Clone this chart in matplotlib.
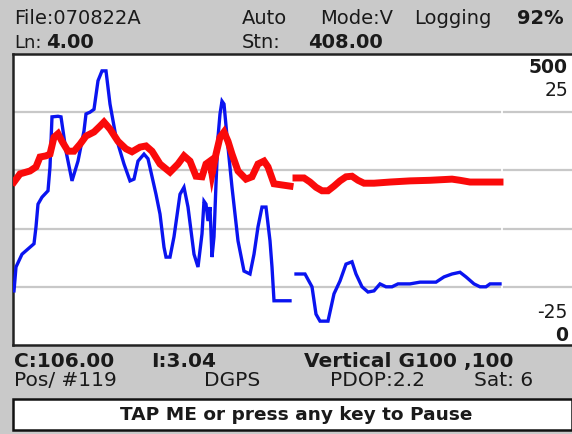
import matplotlib
matplotlib.use("Agg")
import matplotlib.pyplot as plt
import numpy as np
from matplotlib.patches import Rectangle

W, H = 572, 435

# ---- data: blue (left scale -25..25) ----
blue_x1 = [1, 3, 9, 17, 21, 23, 25, 29, 35, 37, 39, 45, 48, 53, 59, 65, 71, 73, 77, 81,
           85, 89, 93, 97, 103, 111, 117, 121, 125, 131, 135, 143, 147, 151, 153, 157,
           161, 167, 171, 175, 181, 185, 189, 191, 193, 195, 197, 199, 201, 203, 205,
           207, 209, 211, 215, 219, 225, 231, 237, 241, 245, 249, 253, 257, 259, 261, 277]
blue_y1 = [-15.7, -11.6, -9.4, -8.2, -7.6, -4.7, -0.8, 0.4, 1.5, 5.6, 14.2, 14.3, 14.2,
           8.3, 3.2, 6.6, 11.8, 14.7, 15.0, 15.5, 20.4, 22.1, 22.1, 16.4, 10.7, 6.1, 3.2,
           3.5, 6.6, 7.8, 7.0, 0.9, -2.5, -8.2, -9.9, -9.9, -6.4, 0.9, 2.1, -1.3, -9.4,
           -11.6, -5.9, -0.3, -0.8, -3.7, -1.3, -9.9, -6.4, 2.7, 10.7, 14.7, 16.9, 16.4,
           9.0, 2.1, -7.1, -12.3, -12.8, -9.4, -4.7, -1.3, -1.3, -7.1, -11.6, -17.4, -17.4]
blue_x2 = [283, 292, 299, 303, 307, 315, 321, 327, 333, 339, 343, 349, 355, 361, 367, 373,
           379, 385, 397, 407, 423, 431, 439, 447, 453, 461, 467, 473, 477, 487]
blue_y2 = [-12.8, -12.8, -15.0, -19.7, -20.9, -20.9, -16.2, -14.0, -11.1, -10.7, -12.8,
           -15.0, -15.9, -15.7, -14.5, -15.0, -15.0, -14.5, -14.5, -14.2, -14.2, -13.3,
           -12.8, -12.5, -13.3, -14.5, -15.0, -15.0, -14.5, -14.5]

# ---- data: red (right scale 0..500) ----
red_x1 = [1, 7, 17, 23, 27, 33, 37, 41, 45, 49, 55, 61, 67, 73, 81, 87, 91, 97, 105, 113,
          119, 127, 133, 139, 147, 157, 165, 171, 177, 183, 189, 193, 197, 199, 203, 207,
          211, 215, 219, 225, 233, 239, 245, 251, 255, 261, 277]
red_y1 = [280, 294, 299, 306, 323, 325, 328, 357, 363, 350, 333, 333, 345, 359, 366, 376,
          383, 371, 350, 337, 332, 340, 342, 333, 311, 297, 311, 325, 316, 290, 289, 311,
          316, 294, 328, 357, 366, 350, 328, 299, 285, 289, 311, 316, 306, 277, 273]
red_x2 = [283, 291, 297, 303, 309, 315, 321, 327, 333, 339, 345, 351, 361, 377, 397, 417,
          439, 447, 457, 487]
red_y2 = [287, 287, 280, 271, 265, 265, 273, 282, 289, 290, 283, 278, 278, 280, 282, 283,
          285, 283, 280, 280]

grid_blue = [-15, -5, 5, 15]

BG = "#c9c9c9"
TXT = "#1a1a1a"

fig = plt.figure(figsize=(W / 100, H / 100), dpi=100, facecolor=BG)
plt.rcParams['font.family'] = ['DejaVu Sans']

def fx(px):
    return px / W

def fy(py):
    return 1 - py / H

# plot area
L, T, R, B = 13, 55, 572, 346
ax = fig.add_axes([fx(L), fy(B), fx(R - L), (B - T) / H])
ax.set_facecolor("white")
ax.set_xlim(0, R - L)
ax.set_ylim(-25, 25)
ax.set_xticks([])
ax.set_yticks([])
for s in ["top", "left", "bottom"]:
    ax.spines[s].set_linewidth(1.8)
    ax.spines[s].set_color("#222222")
ax.spines["right"].set_visible(False)

for g in grid_blue:
    ax.plot([0, 487], [g, g], color="#c8c8c8", lw=1.6, zorder=1)
    ax.plot([491, R - L], [g, g], color="#c8c8c8", lw=1.6, zorder=1)

bx = blue_x1 + [np.nan] + blue_x2
by = blue_y1 + [np.nan] + blue_y2
ax.plot(bx, by, color="#0a14f0", lw=2.4, zorder=3, solid_joinstyle="miter")

ax2 = ax.twinx()
ax2.set_ylim(0, 500)
ax2.set_xlim(0, R - L)
ax2.set_yticks([])
ax2.set_xticks([])
for s in ax2.spines.values():
    s.set_visible(False)
rx = red_x1 + [np.nan] + red_x2
ry = red_y1 + [np.nan] + red_y2
ax2.plot(rx, ry, color="#fa0a0a", lw=5.0, zorder=4, solid_joinstyle="miter")

def t(x, y, s, size=14, bold=False, ha="left"):
    fig.text(fx(x), fy(y), s, ha=ha, va="center", fontsize=size,
             fontweight="bold" if bold else "normal", color=TXT)

# right-side scale labels
t(568, 68, "500", 13.5, True, "right")
t(568, 90, "25", 13.5, False, "right")
t(568, 313, "-25", 13.5, False, "right")
t(568, 336, "0", 13.5, True, "right")

# header
t(14, 18, "File:070822A", 14)
t(242, 18, "Auto", 14)
t(320, 18, "Mode:V", 14)
t(414, 18, "Logging", 14)
t(517, 18, "92%", 14, True)

t(14, 43, "Ln:", 13)
t(46, 43, "4.00", 14, True)
t(242, 43, "Stn:", 14)
t(308, 43, "408.00", 14, True)

# footer
t(14, 362, "C:106.00", 14.5, True)
t(151, 362, "I:3.04", 14.5, True)
t(304, 362, "Vertical G100 ,100", 14.5, True)

t(14, 381, "Pos/ #119", 14.5)
t(204, 381, "DGPS", 14.5)
t(330, 381, "PDOP:2.2", 14.5)
t(474, 381, "Sat: 6", 14.5)

box = Rectangle((fx(13), fy(431)), fx(572 - 13), (431 - 400) / H, transform=fig.transFigure,
                facecolor="white", edgecolor="#111111", lw=1.8)
fig.patches.append(box)
t(296, 415.5, "TAP ME or press any key to Pause", 13.3, True, "center")

fig.savefig("out.png", dpi=100, facecolor=BG)
